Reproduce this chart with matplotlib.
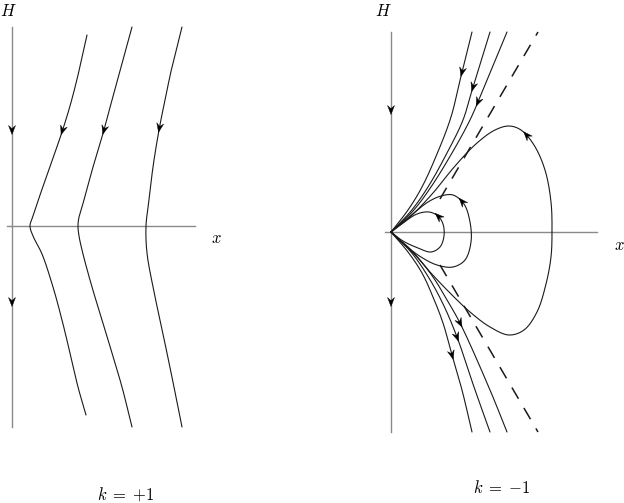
import numpy as np
import matplotlib
matplotlib.use('Agg')
import matplotlib.pyplot as plt
from matplotlib.patches import Polygon

plt.rcParams['mathtext.fontset'] = 'cm'

# ---------------- data: k = +1 panel (x to the right, H upward) ----------------
left_curve_1 = [(75, 191), (67, 155), (58, 120), (48, 88), (37, 57), (27, 28), (21, 10),
                (18, 0), (21, -10), (30, -28), (41, -61), (50, -94), (58, -127), (66, -161), (74, -189)]
left_curve_2 = [(120, 199), (109, 159), (100, 126), (92, 96), (81, 59), (72, 26), (67, 9),
                (66, 0), (67, -10), (71, -28), (80, -61), (90, -94), (100, -127), (110, -161), (120, -201)]
left_curve_3 = [(170, 199), (160, 159), (153, 126), (147, 96), (141, 59), (137, 26), (134, 0),
                (135, -27), (141, -61), (148, -94), (155, -127), (162, -161), (170, -201)]
left_curves = [left_curve_1, left_curve_2, left_curve_3]
left_arrows = [(51, 96), (92, 96), (148, 98)]
left_axis_arrows = [96, -76]
left_H_range = (199, -201)
left_x_range = (-5, 183)

# ---------------- data: k = -1 panel ----------------
right_in_A = [(81, 200), (71, 160), (60, 115), (46, 78), (31, 45), (17, 22), (0, 0)]
right_in_B = [(99, 200), (82, 145), (72, 112), (56, 79), (37, 45), (20, 21), (0, 0)]
right_in_C = [(116, 200), (87, 130), (78, 110), (61, 79), (40, 45), (22, 21), (0, 0)]
right_out_D = [(0, 0), (17, -20), (31, -41), (42, -65), (52, -91), (61, -123), (71, -158), (81, -200)]
right_out_E = [(0, 0), (20, -20), (38, -46), (53, -74), (66, -105), (83, -155), (99, -200)]
right_out_F = [(0, 0), (22, -20), (42, -45), (56, -68), (69, -91), (99, -158), (116, -200)]
loop_small = [(0, 0), (12, -9), (27, -16), (40, -20), (49, -15), (53, -4), (52, 8), (47, 16),
              (38, 20), (26, 18), (12, 9), (0, 0)]
loop_medium = [(0, 0), (14, -13), (30, -25), (46, -33), (62, -35), (74, -28), (80, -10), (79, 10),
               (73, 28), (62, 37), (50, 36), (37, 30), (23, 19), (11, 9), (0, 0)]
loop_large = [(0, 0), (13, -12), (26, -25), (39, -40), (59, -61), (79, -80), (99, -95), (118, -103),
              (133, -98), (146, -80), (155, -52), (160, -25), (161, 0), (160, 30), (154, 62),
              (143, 87), (130, 102), (118, 106), (104, 102), (86, 89), (64, 66), (42, 39), (20, 16), (0, 0)]
right_curves = [right_in_A, right_in_B, right_in_C, right_out_D, right_out_E, right_out_F,
                loop_small, loop_medium, loop_large]
right_arrows = [(71, 160), (82, 145), (87, 130), (61, -123), (66, -105), (69, -91),
                (48, 16), (72, 31), (136, 97)]
right_axis_arrows = [122, -70]
right_H_range = (200, -200)
right_x_range = (-6, 206)
dashed_upper = [(49, 33), (147, 200)]
dashed_lower = [(49, -33), (147, -200)]

labels_left = {'H': (-4, 215), 'x': (204, -12), 'k': (114, -269)}
labels_right = {'H': (-8, 221), 'x': (228, -13), 'k': (111, -256)}


def smooth(pts, n=30, alpha=0.5):
    """Centripetal Catmull-Rom spline through the given points."""
    p = np.asarray(pts, float)
    ext = np.vstack([2 * p[0] - p[1], p, 2 * p[-1] - p[-2]])
    out = [p[0]]
    for i in range(1, len(ext) - 2):
        p0, p1, p2, p3 = ext[i - 1], ext[i], ext[i + 1], ext[i + 2]
        t0 = 0.0
        t1 = t0 + max(np.hypot(*(p1 - p0)), 1e-6) ** alpha
        t2 = t1 + max(np.hypot(*(p2 - p1)), 1e-6) ** alpha
        t3 = t2 + max(np.hypot(*(p3 - p2)), 1e-6) ** alpha
        t = np.linspace(t1, t2, n)[1:, None]
        A1 = (t1 - t) / (t1 - t0) * p0 + (t - t0) / (t1 - t0) * p1
        A2 = (t2 - t) / (t2 - t1) * p1 + (t - t1) / (t2 - t1) * p2
        A3 = (t3 - t) / (t3 - t2) * p2 + (t - t2) / (t3 - t2) * p3
        B1 = (t2 - t) / (t2 - t0) * A1 + (t - t0) / (t2 - t0) * A2
        B2 = (t3 - t) / (t3 - t1) * A2 + (t - t1) / (t3 - t1) * A3
        C = (t2 - t) / (t2 - t1) * B1 + (t - t1) / (t2 - t1) * B2
        out.extend(C)
    return np.array(out)


def arrowhead(ax, pos, direction, L=9.0, W=7.0, color='k'):
    d = np.asarray(direction, float)
    d = d / np.hypot(*d)
    nrm = np.array([-d[1], d[0]])
    c = np.asarray(pos, float)
    tip = c + d * L * 0.5
    back = c - d * L * 0.5
    notch = c - d * L * 0.15
    poly = [tip, back + nrm * W / 2, notch, back - nrm * W / 2]
    ax.add_patch(Polygon(poly, closed=True, fc=color, ec=color, lw=0.3, zorder=5))


def draw_curve(ax, pts, arrow_positions):
    s = smooth(pts)
    ax.plot(s[:, 0], s[:, 1], color='#1a1a1a', lw=0.8, solid_capstyle='round', zorder=3)
    for a in arrow_positions:
        dist = np.hypot(s[:, 0] - a[0], s[:, 1] - a[1])
        i = int(np.argmin(dist))
        if dist[i] < 4:
            i0, i1 = max(i - 3, 0), min(i + 3, len(s) - 1)
            arrowhead(ax, s[i], s[i1] - s[i0])


fig = plt.figure(figsize=(6.24, 5.03), dpi=100)
axL = fig.add_axes([0, 0, 0.5, 1])
axR = fig.add_axes([0.5, 0, 0.5, 1])
axL.set_xlim(-12, 300)
axL.set_ylim(-277, 226)
axR.set_xlim(-79, 233)
axR.set_ylim(-271, 232)
axis_col = '#8a8a8a'

for ax, Hr, xr, ax_arrows, curves, arrows, labs, ktxt in [
        (axL, left_H_range, left_x_range, left_axis_arrows, left_curves, left_arrows, labels_left, r'$k\;=\;{+1}$'),
        (axR, right_H_range, right_x_range, right_axis_arrows, right_curves, right_arrows, labels_right, r'$k\;=\;{-1}$')]:
    ax.axis('off')
    ax.plot([0, 0], list(Hr), color=axis_col, lw=1.0, zorder=1)
    ax.plot(list(xr), [0, 0], color=axis_col, lw=1.0, zorder=1)
    for h in ax_arrows:
        arrowhead(ax, (0, h), (0, -1))
    for c in curves:
        draw_curve(ax, c, arrows)
    ax.text(*labs['H'], r'$H$', fontsize=12, ha='center', va='center')
    ax.text(*labs['x'], r'$x$', fontsize=12, ha='center', va='center')
    ax.text(*labs['k'], ktxt, fontsize=12, ha='center', va='center')

for d in (dashed_upper, dashed_lower):
    d = np.asarray(d)
    axR.plot(d[:, 0], d[:, 1], color='#1a1a1a', lw=1.1, dashes=(8.5, 7.0), zorder=2)

fig.savefig('out.png', dpi=100)
